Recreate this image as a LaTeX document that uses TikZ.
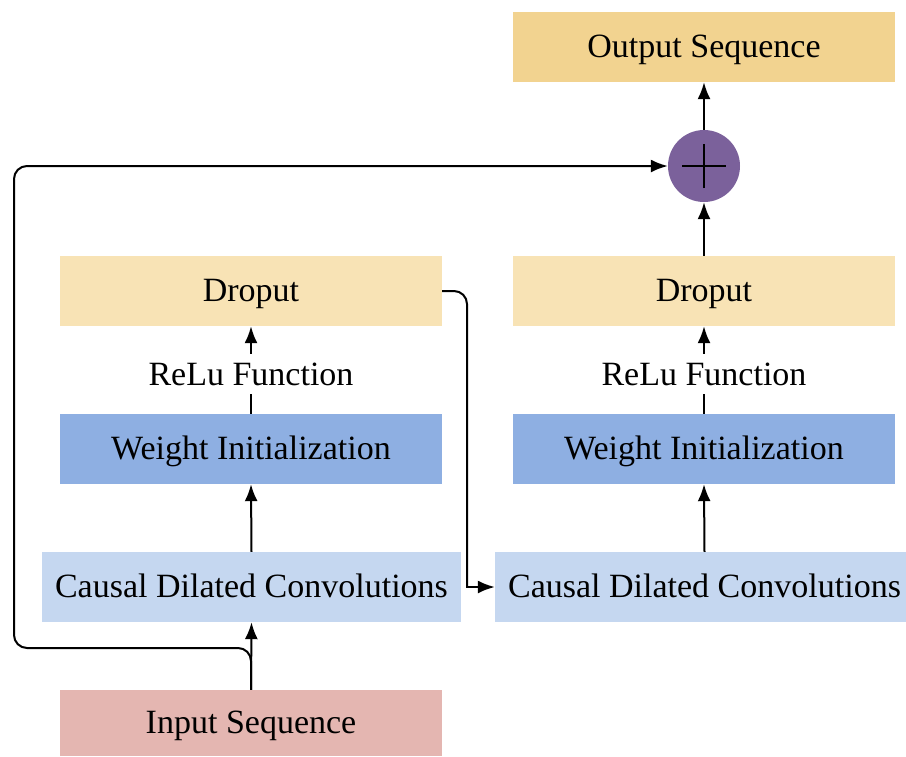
\documentclass[tikz,border=0pt]{standalone}
\usepackage{fontspec}
\setmainfont{Liberation Serif}
\usetikzlibrary{arrows.meta}

\definecolor{outcol}{HTML}{F2D390}
\definecolor{dropcol}{HTML}{F8E3B5}
\definecolor{weightcol}{HTML}{8EAFE2}
\definecolor{convcol}{HTML}{C5D7F0}
\definecolor{incol}{HTML}{E4B6B1}
\definecolor{addcol}{HTML}{7B619B}

\tikzset{
  block/.style={draw=none, minimum height=70pt, minimum width=382pt,
    inner sep=0pt, text height=26pt, text depth=6pt,
    font=\fontsize{34}{40}\selectfont},
  steplabel/.style={inner sep=4pt, text height=27pt, text depth=5pt,
    font=\fontsize{34}{40}\selectfont},
  conn/.style={line width=2pt, -{Latex[length=17pt,width=13pt]}},
  plain/.style={line width=2pt},
}

\begin{document}
\begin{tikzpicture}[x=1pt, y=-1pt]
  \useasboundingbox (0,0) rectangle (906,756);

  % left column
  \node[block, fill=incol, minimum height=66pt] (input) at (251,723) {Input Sequence};
  \node[block, fill=convcol, minimum width=419pt] (convL) at (251.5,587) {Causal Dilated Convolutions};
  \node[block, fill=weightcol] (weightL) at (251,449) {Weight Initialization};
  \node[steplabel] (reluL) at (251,374) {ReLu Function};
  \node[block, fill=dropcol] (dropL) at (251,291) {Droput};

  % right column
  \node[block, fill=convcol, minimum width=419pt] (convR) at (704.5,587) {Causal Dilated Convolutions};
  \node[block, fill=weightcol] (weightR) at (704,449) {Weight Initialization};
  \node[steplabel] (reluR) at (704,374) {ReLu Function};
  \node[block, fill=dropcol] (dropR) at (704,291) {Droput};
  \node[circle, fill=addcol, minimum size=72pt, inner sep=0pt] (plus) at (704,166) {};
  \node[block, fill=outcol] (output) at (704,47) {Output Sequence};

  % plus sign in the adder
  \draw[plain] ([xshift=-22pt]plus.center) -- ([xshift=22pt]plus.center);
  \draw[plain] ([yshift=-22pt]plus.center) -- ([yshift=22pt]plus.center);

  % turning points
  \coordinate (skipL) at (14,648);
  \coordinate (bend) at (467,587);

  % left stack
  \draw[conn] (input.north) -- (convL.south);
  \draw[conn] (convL.north) -- (weightL.south);
  \draw[plain] (weightL.north) -- (reluL.south);
  \draw[conn] (reluL.north) -- (dropL.south);

  % right stack
  \draw[conn] (convR.north) -- (weightR.south);
  \draw[plain] (weightR.north) -- (reluR.south);
  \draw[conn] (reluR.north) -- (dropR.south);
  \draw[conn] (dropR.north) -- (plus.south);
  \draw[conn] (plus.north) -- (output.south);

  % residual skip from the input to the adder
  \draw[conn, rounded corners=13pt] (input.north) |- (skipL) |- (plus.west);

  % link from the first block to the second
  \draw[plain, rounded corners=13pt] (dropL.east) -| (bend);
  \draw[conn] ([xshift=-1pt]bend) -- (convR.west);
\end{tikzpicture}
\end{document}
